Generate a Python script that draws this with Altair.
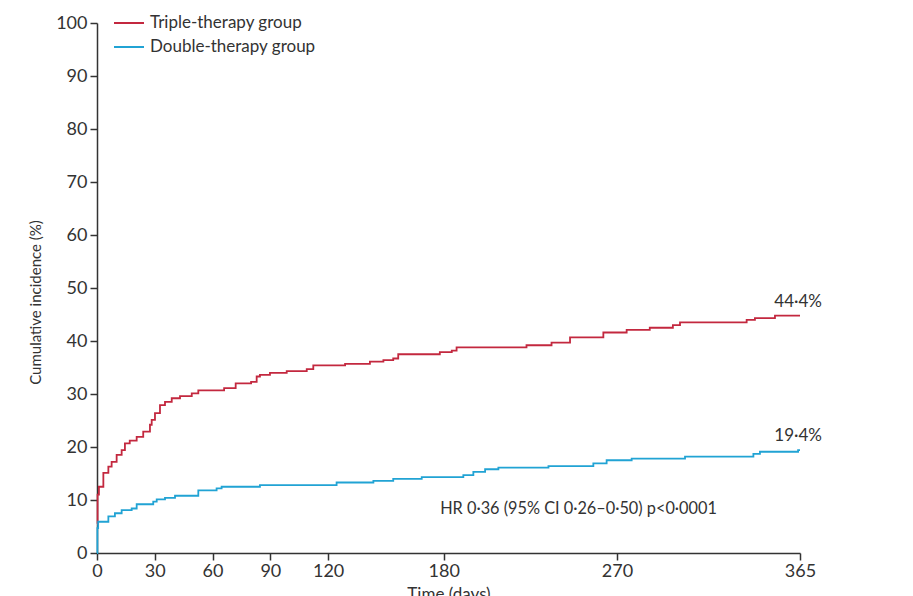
import altair as alt
import pandas as pd

# Triple-therapy group (days, cumulative incidence %)
triple_days = [0, 0.3, 1.0, 3.3, 5.9, 7.6, 10.2, 12.8, 14.5, 17.0, 20.6, 24.0, 27.5, 28.4,
               30.1, 32.7, 35.3, 38.8, 43.1, 49.2, 52.6, 66, 72, 80, 82.9, 84.6, 89.8, 98.5,
               108.9, 112.3, 128.8, 141.7, 148.7, 153.8, 156.4, 178, 184.2, 186.7, 223, 236,
               245.6, 262.9, 275, 287, 299, 302.7, 337.3, 341.6, 352, 365]
triple_vals = [5.5, 11.0, 12.5, 15.1, 16.3, 17.2, 18.5, 19.4, 20.7, 21.2, 21.9, 22.9, 24.2, 25.1,
               26.4, 27.9, 28.5, 29.2, 29.6, 30.1, 30.7, 31.1, 32.0, 32.3, 33.3, 33.6, 34.0, 34.3,
               34.7, 35.4, 35.7, 36.1, 36.4, 36.7, 37.5, 37.9, 38.2, 38.8, 39.2, 39.7,
               40.7, 41.6, 42.1, 42.5, 43.0, 43.5, 44.0, 44.3, 44.8, 44.8]

# Double-therapy group
double_days = [0, 0.2, 0.6, 5.9, 9.3, 12.8, 18, 20.6, 29.2, 31, 35.3, 40.5, 52.6, 62.1, 64.7,
               84.6, 124.4, 143.5, 153.8, 168.6, 190.2, 195.4, 201.5, 208.4, 234.4, 257.7,
               264.6, 277.6, 305.3, 340.8, 344.2, 364, 365]
double_vals = [0, 4.7, 5.9, 6.9, 7.5, 8.1, 8.4, 9.2, 9.7, 10.1, 10.4, 10.8, 11.8, 12.2, 12.5,
               12.8, 13.3, 13.6, 14.0, 14.3, 14.7, 15.3, 15.8, 16.1, 16.4, 16.9,
               17.5, 17.8, 18.2, 18.7, 19.1, 19.4, 19.4]

groups = ["Triple-therapy group", "Double-therapy group"]
colors = ["#c3283f", "#21a3d4"]

end_labels = ["44·4%", "19·4%"]
end_days = [365, 365]
end_vals = [44.8, 19.4]

hr_text = ["HR 0·36 (95% CI 0·26–0·50) p<0·0001"]
hr_day = [250]
hr_val = [8.3]

x_ticks = [0, 30, 60, 90, 120, 180, 270, 365]
y_ticks = [0, 10, 20, 30, 40, 50, 60, 70, 80, 90, 100]

FONT = "Lato"
TXT = "#333333"

df = pd.concat([
    pd.DataFrame({"day": triple_days, "val": triple_vals, "group": groups[0], "order": 1}),
    pd.DataFrame({"day": double_days, "val": double_vals, "group": groups[1], "order": 0}),
])
lab_df = pd.DataFrame({"day": end_days, "val": end_vals, "label": end_labels})
hr_df = pd.DataFrame({"day": hr_day, "val": hr_val, "label": hr_text})

xscale = alt.Scale(domain=[0, 365], nice=False, zero=False)
yscale = alt.Scale(domain=[0, 100], nice=False)

lines = alt.Chart(df).mark_line(interpolate="step-after", strokeWidth=1.8).encode(
    x=alt.X("day:Q", scale=xscale,
            axis=alt.Axis(values=x_ticks, title="Time (days)", grid=False,
                          tickSize=7, tickColor=TXT, domainColor=TXT, domainWidth=1.5,
                          tickWidth=1.5, labelFont=FONT, labelFontSize=18, labelColor=TXT,
                          labelPadding=2, titleFont=FONT, titleFontSize=17,
                          titleFontWeight="normal", titleColor=TXT, titlePadding=6,
                          labelFlush=False)),
    y=alt.Y("val:Q", scale=yscale,
            axis=alt.Axis(values=y_ticks, title="Cumulative incidence (%)", grid=False,
                          tickSize=7, tickColor=TXT, domainColor=TXT, domainWidth=1.5,
                          tickWidth=1.5, labelFont=FONT, labelFontSize=18, labelColor=TXT,
                          labelPadding=3, titleFont=FONT, titleFontSize=15,
                          titleFontWeight="normal", titleColor=TXT,
                          titleX=-62, titleY=279, titleBaseline="middle")),
    color=alt.Color("group:N", scale=alt.Scale(domain=groups, range=colors),
                    legend=alt.Legend(title=None, orient="none", legendX=16, legendY=-16,
                                      symbolType="stroke", symbolSize=900,
                                      symbolStrokeWidth=2, labelFont=FONT,
                                      labelFontSize=17, labelColor=TXT, labelOffset=5,
                                      labelLimit=400, rowPadding=0, padding=0)),
    order=alt.Order("order:Q"),
    detail="group:N",
)

labels = alt.Chart(lab_df).mark_text(align="right", dx=22, dy=-14, font=FONT,
                                     fontSize=17, color=TXT).encode(
    x=alt.X("day:Q", scale=xscale), y=alt.Y("val:Q", scale=yscale), text="label:N")

hr = alt.Chart(hr_df).mark_text(align="center", baseline="middle", font=FONT,
                                fontSize=16.3, color=TXT).encode(
    x=alt.X("day:Q", scale=xscale), y=alt.Y("val:Q", scale=yscale), text="label:N")

chart = alt.layer(lines, labels, hr).properties(
    width=703, height=530,
    autosize=alt.AutoSizeParams(type="none"),
    padding={"left": 97, "top": 23, "right": 113, "bottom": 43},
    background="white",
).configure_view(stroke=None)

chart.save("out.html", embed_options={"renderer": "svg", "actions": False})
